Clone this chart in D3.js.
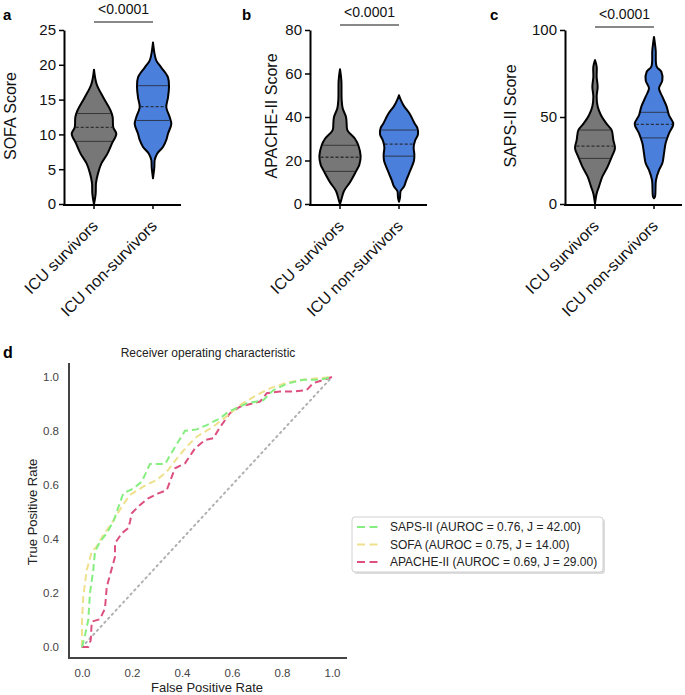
<!DOCTYPE html>
<html>
<head>
<meta charset="utf-8">
<script src="https://cdn.jsdelivr.net/npm/d3@7"></script>
<style>
  html, body { margin: 0; padding: 0; background: #fff; }
  svg { display: block; font-family: "Liberation Sans", Arial, sans-serif; }
</style>
</head>
<body>
<svg id="chart" width="685" height="695"></svg>
<script>
// ---------------- DATA ----------------
const groups = ["ICU survivors", "ICU non-survivors"];
const pValueText = "<0.0001";

// Violin outlines: score levels and relative density (half-width)
const sofaSurvLevels = [0, 1.5, 3, 4.4, 5.8, 7.2, 8.7, 10.1, 11, 12.5, 13.4, 15.3, 17.2, 19.3];
const sofaSurvDens   = [0, 5, 6, 12, 22, 40, 54, 67, 58, 56, 50, 28, 8, 0];
const sofaNonLevels  = [3.7, 5.3, 6.3, 7.2, 8.2, 9.2, 10.1, 11.5, 12.5, 13.9, 15.3, 16.8, 18.2, 19.6, 20.6, 21.5, 23.2];
const sofaNonDens    = [0, 4, 5, 12, 30, 40, 45, 55, 50, 40, 45, 48, 45, 25, 10, 5, 0];
const sofaSurvQuart  = [9, 11, 13];
const sofaNonQuart   = [12, 14, 17];

const apacheSurvLevels = [0, 2, 6, 10, 15, 18, 22, 27, 30, 34, 37, 40, 44, 48, 57, 62];
const apacheSurvDens   = [0, 4, 12, 30, 48, 58, 62, 55, 45, 22, 20, 18, 8, 5, 4, 0];
const apacheNonLevels  = [1, 3, 6, 8, 11, 14, 20, 23, 26, 29, 32, 35, 37, 41.5, 45, 48, 50];
const apacheNonDens    = [0, 3, 5, 15, 22, 30, 45, 46, 44, 48, 57, 55, 47, 32, 15, 5, 0];
const apacheSurvQuart  = [15, 21.5, 27];
const apacheNonQuart   = [22, 27.5, 34];

const sapsSurvLevels = [0, 6, 10, 15.7, 21.5, 27, 32, 36.8, 42.5, 46, 51, 56, 61.7, 67.4, 73, 79, 82.7];
const sapsSurvDens   = [0, 5, 12, 22, 38, 50, 60, 55, 50, 35, 18, 8, 5, 8, 5, 5, 0];
const sapsNonLevels  = [3.3, 4.2, 13.8, 19.5, 23.4, 29, 35, 40.6, 46, 51, 56, 61.7, 66.5, 71, 76, 79, 88.5, 96];
const sapsNonDens    = [0, 3, 6, 15, 25, 30, 35, 45, 58, 45, 38, 25, 15, 25, 22, 8, 5, 0];
const sapsSurvQuart  = [26.2, 33.3, 42.5];
const sapsNonQuart   = [38, 45.8, 52.7];

const sofaTicks   = [0, 5, 10, 15, 20, 25];
const apacheTicks = [0, 20, 40, 60, 80];
const sapsTicks   = [0, 50, 100];

// ROC curves [FPR, TPR]
const rocSaps = [[0,0],[0.012,0.044],[0.025,0.1],[0.032,0.2],[0.045,0.285],[0.052,0.353],[0.072,0.39],[0.099,0.422],[0.125,0.464],[0.165,0.569],[0.205,0.587],[0.239,0.612],[0.272,0.678],[0.332,0.678],[0.365,0.73],[0.412,0.801],[0.459,0.806],[0.499,0.822],[0.552,0.847],[0.585,0.871],[0.659,0.902],[0.725,0.914],[0.765,0.951],[0.819,0.975],[0.885,0.99],[0.952,0.99],[1,1]];
const rocSofa = [[0,0],[0,0.1],[0.005,0.186],[0.019,0.285],[0.039,0.353],[0.059,0.372],[0.085,0.415],[0.119,0.458],[0.159,0.52],[0.192,0.563],[0.245,0.594],[0.299,0.619],[0.339,0.649],[0.379,0.698],[0.419,0.742],[0.459,0.779],[0.525,0.816],[0.585,0.859],[0.632,0.896],[0.699,0.933],[0.752,0.958],[0.819,0.979],[0.885,0.99],[0.939,0.995],[1,1]];
const rocApache = [[0,0],[0.025,0],[0.035,0.026],[0.039,0.094],[0.072,0.103],[0.092,0.143],[0.099,0.223],[0.112,0.267],[0.132,0.334],[0.132,0.384],[0.159,0.421],[0.185,0.44],[0.192,0.464],[0.199,0.495],[0.225,0.52],[0.265,0.551],[0.305,0.569],[0.339,0.581],[0.372,0.662],[0.412,0.68],[0.452,0.736],[0.492,0.767],[0.525,0.773],[0.552,0.814],[0.592,0.866],[0.632,0.89],[0.712,0.909],[0.739,0.94],[0.792,0.946],[0.845,0.946],[0.899,0.952],[0.925,0.977],[0.965,0.989],[1,1]];
const rocLabels = ["SAPS-II (AUROC = 0.76, J = 42.00)", "SOFA (AUROC = 0.75, J = 14.00)", "APACHE-II (AUROC = 0.69, J = 29.00)"];
const rocTicks = [0, 0.2, 0.4, 0.6, 0.8, 1.0];

// ---------------- DRAW ----------------
const svg = d3.select("#chart");
const FONT = "'Liberation Sans', Arial, sans-serif";
const groupColors = ["#777777", "#4b7fdc"];

function interp(levels, dens, v) {
  return d3.scaleLinear().domain(levels).range(dens).clamp(true)(v);
}

const dens2px = d3.scaleLinear().domain([0, 67]).range([0, 22.3]);

function violinPanel(cfg) {
  const g = svg.append("g");
  const y = d3.scaleLinear().domain([0, cfg.max]).range([204, 30]);
  const x = d3.scalePoint().domain(groups).range([cfg.x0 + 30, cfg.x0 + 89]);

  // violins
  cfg.violins.forEach((v, i) => {
    const cx = x(groups[i]);
    const pts = v.levels.map((l, k) => ({ l, d: v.dens[k] }));
    const area = d3.area()
      .y(d => y(d.l))
      .x0(d => cx - dens2px(d.d))
      .x1(d => cx + dens2px(d.d))
      .curve(d3.curveCatmullRom.alpha(0.5));
    g.append("path").attr("d", area(pts))
      .attr("fill", groupColors[i]).attr("stroke", "#000").attr("stroke-width", 2)
      .attr("stroke-linejoin", "round");
    v.quart.forEach((q, k) => {
      const w = dens2px(interp(v.levels, v.dens, q)) - 1;
      g.append("line")
        .attr("x1", cx - w).attr("x2", cx + w)
        .attr("y1", y(q)).attr("y2", y(q))
        .attr("stroke", "#222").attr("stroke-width", k === 1 ? 1.3 : 0.9)
        .attr("stroke-opacity", 0.85)
        .attr("stroke-dasharray", k === 1 ? "3,2" : null);
    });
  });

  // y axis
  const ya = g.append("g").attr("transform", `translate(${cfg.x0},0)`)
    .call(d3.axisLeft(y).tickValues(cfg.ticks).tickSize(5).tickPadding(3).tickSizeOuter(0));
  ya.select(".domain").attr("stroke", "#000").attr("stroke-width", 2);
  ya.selectAll(".tick line").attr("stroke", "#000").attr("stroke-width", 1.5);
  ya.selectAll(".tick text").attr("font-size", 15).attr("font-family", FONT).attr("fill", "#111");

  // x axis
  g.append("line").attr("x1", cfg.x0 - 1).attr("x2", cfg.x0 + 117)
    .attr("y1", 205).attr("y2", 205).attr("stroke", "#000").attr("stroke-width", 2);
  groups.forEach(gr => {
    g.append("line").attr("x1", x(gr)).attr("x2", x(gr)).attr("y1", 205).attr("y2", 209)
      .attr("stroke", "#000").attr("stroke-width", 1.5);
    g.append("text").text(gr)
      .attr("transform", `translate(${x(gr) + 5},227) rotate(-45)`)
      .attr("text-anchor", "end").attr("font-size", 16).attr("font-family", FONT).attr("fill", "#111");
  });

  // y title
  g.append("text").text(cfg.title)
    .attr("transform", `translate(${cfg.titleX},116) rotate(-90)`)
    .attr("text-anchor", "middle").attr("font-size", 16).attr("font-family", FONT).attr("fill", "#111");

  // panel label
  g.append("text").text(cfg.label).attr("x", cfg.labelX).attr("y", 20)
    .attr("font-size", 15).attr("font-weight", "bold").attr("font-family", FONT);

  // significance
  g.append("line").attr("x1", x(groups[0])).attr("x2", x(groups[1]))
    .attr("y1", cfg.barY).attr("y2", cfg.barY).attr("stroke", "#888").attr("stroke-width", 2);
  g.append("text").text(pValueText)
    .attr("x", (x(groups[0]) + x(groups[1])) / 2).attr("y", cfg.barY - 8)
    .attr("text-anchor", "middle").attr("font-size", 14).attr("font-family", FONT).attr("fill", "#111");
}

violinPanel({
  x0: 64, max: 25, ticks: sofaTicks, title: "SOFA Score", titleX: 16, label: "a", labelX: 3, barY: 22,
  violins: [
    { levels: sofaSurvLevels, dens: sofaSurvDens, quart: sofaSurvQuart },
    { levels: sofaNonLevels, dens: sofaNonDens, quart: sofaNonQuart }
  ]
});
violinPanel({
  x0: 310, max: 80, ticks: apacheTicks, title: "APACHE-II Score", titleX: 277, label: "b", labelX: 242, barY: 25,
  violins: [
    { levels: apacheSurvLevels, dens: apacheSurvDens, quart: apacheSurvQuart },
    { levels: apacheNonLevels, dens: apacheNonDens, quart: apacheNonQuart }
  ]
});
violinPanel({
  x0: 565, max: 100, ticks: sapsTicks, title: "SAPS-II Score", titleX: 516, label: "c", labelX: 490, barY: 27,
  violins: [
    { levels: sapsSurvLevels, dens: sapsSurvDens, quart: sapsSurvQuart },
    { levels: sapsNonLevels, dens: sapsNonDens, quart: sapsNonQuart }
  ]
});

// ---------------- ROC panel ----------------
const rx = d3.scaleLinear().domain([0, 1]).range([82, 332]);
const ry = d3.scaleLinear().domain([0, 1]).range([647, 377]);
const roc = svg.append("g");

roc.append("text").text("d").attr("x", 3).attr("y", 358)
  .attr("font-size", 16).attr("font-weight", "bold").attr("font-family", FONT);
roc.append("text").text("Receiver operating characteristic").attr("x", 208).attr("y", 357)
  .attr("text-anchor", "middle").attr("font-size", 12).attr("font-family", FONT).attr("fill", "#222");

const xa = roc.append("g").attr("transform", "translate(0,658)")
  .call(d3.axisBottom(rx).tickValues(rocTicks).tickFormat(d3.format(".1f")).tickSize(0).tickPadding(11));
xa.select(".domain").remove();
xa.selectAll(".tick text").attr("font-size", 11.5).attr("font-family", FONT).attr("fill", "#444");
const yaR = roc.append("g").attr("transform", "translate(69,0)")
  .call(d3.axisLeft(ry).tickValues(rocTicks).tickFormat(d3.format(".1f")).tickSize(0).tickPadding(10));
yaR.select(".domain").remove();
yaR.selectAll(".tick text").attr("font-size", 11.5).attr("font-family", FONT).attr("fill", "#444");

roc.append("line").attr("x1", 69).attr("x2", 69).attr("y1", 363).attr("y2", 659)
  .attr("stroke", "#444").attr("stroke-width", 2);
roc.append("line").attr("x1", 68).attr("x2", 347).attr("y1", 658).attr("y2", 658)
  .attr("stroke", "#444").attr("stroke-width", 2);

roc.append("text").text("False Positive Rate").attr("x", 207).attr("y", 692)
  .attr("text-anchor", "middle").attr("font-size", 13).attr("font-family", FONT).attr("fill", "#222");
roc.append("text").text("True Positive Rate")
  .attr("transform", "translate(37,512) rotate(-90)")
  .attr("text-anchor", "middle").attr("font-size", 13).attr("font-family", FONT).attr("fill", "#222");

// diagonal
roc.append("line").attr("x1", rx(0)).attr("y1", ry(0)).attr("x2", rx(1)).attr("y2", ry(1))
  .attr("stroke", "#b0b0b0").attr("stroke-width", 2).attr("stroke-dasharray", "1.5,4").attr("stroke-linecap", "round");

const rocColors = ["#86ee80", "#efe08e", "#dc4f7e"];
const line = d3.line().x(d => rx(d[0])).y(d => ry(d[1]));
[rocApache, rocSofa, rocSaps].forEach((s, i) => {
  roc.append("path").attr("d", line(s)).attr("fill", "none")
    .attr("stroke", rocColors[2 - i]).attr("stroke-width", 2)
    .attr("stroke-dasharray", "7,4");
});

// legend
const lg = roc.append("g");
lg.append("rect").attr("x", 354).attr("y", 519).attr("width", 251).attr("height", 55).attr("rx", 3)
  .attr("fill", "#cfcfcf").attr("opacity", 0.7);
lg.append("rect").attr("x", 352).attr("y", 517).attr("width", 251).attr("height", 55).attr("rx", 3)
  .attr("fill", "#fff").attr("stroke", "#d0d0d0").attr("stroke-width", 1);
rocLabels.forEach((t, i) => {
  const yy = 527 + i * 17.5;
  lg.append("line").attr("x1", 357).attr("x2", 381).attr("y1", yy).attr("y2", yy)
    .attr("stroke", rocColors[i]).attr("stroke-width", 2).attr("stroke-dasharray", "8,4.5");
  lg.append("text").text(t).attr("x", 390).attr("y", yy + 4)
    .attr("font-size", 12).attr("font-family", FONT).attr("fill", "#222");
});
</script>
</body>
</html>
